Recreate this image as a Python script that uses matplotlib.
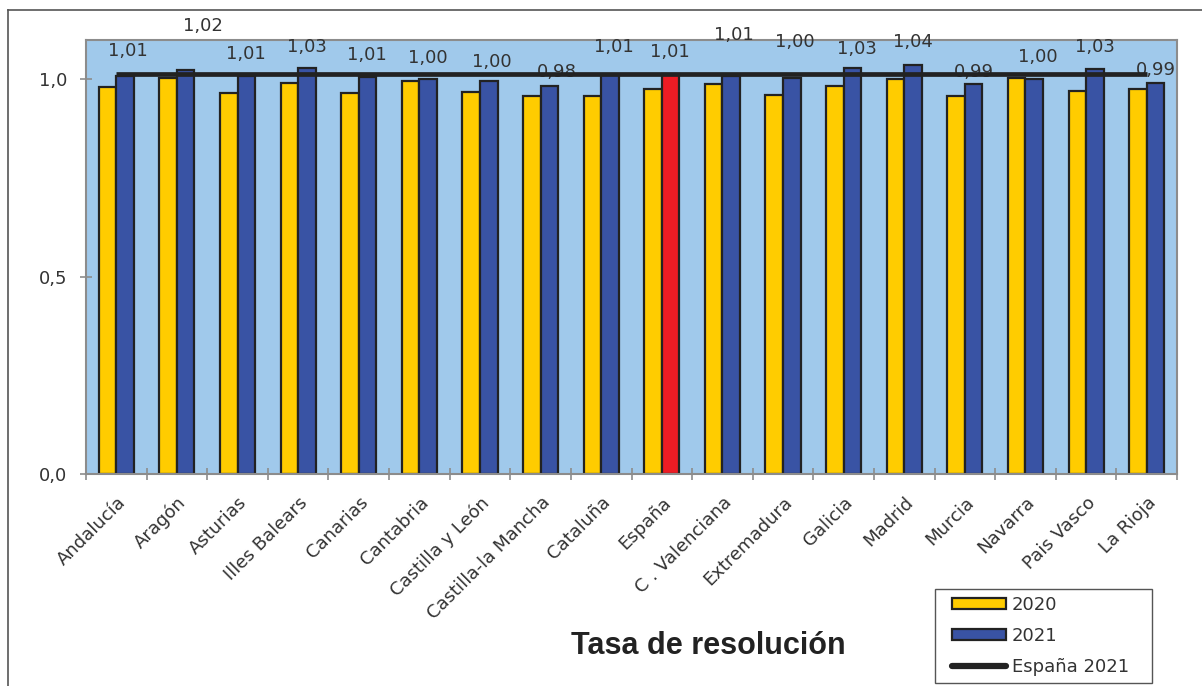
import matplotlib
matplotlib.use("Agg")
import matplotlib.pyplot as plt
from matplotlib.patches import Patch, Rectangle
from matplotlib.lines import Line2D
import numpy as np

# data
regions = ["Andalucía", "Aragón", "Asturias", "Illes Balears", "Canarias",
           "Cantabria", "Castilla y León", "Castilla-la Mancha", "Cataluña",
           "España", "C . Valenciana", "Extremadura", "Galicia", "Madrid",
           "Murcia", "Navarra", "Pais Vasco", "La Rioja"]
tasa_2020 = [0.981, 1.003, 0.966, 0.990, 0.966, 0.996, 0.969, 0.958, 0.959,
             0.977, 0.988, 0.960, 0.983, 1.000, 0.958, 1.003, 0.970, 0.975]
tasa_2021 = [1.010, 1.024, 1.008, 1.030, 1.007, 1.002, 0.997, 0.984, 1.012,
             1.014, 1.010, 1.003, 1.030, 1.036, 0.988, 1.002, 1.026, 0.992]
espana_2021 = 1.014
y_ticks = [0.0, 0.5, 1.0]

# label offsets (pixels) as placed in the original
lab_dx = [3, 17, 0, 0, -1, 0, 3, 7, 4, -1, 3, 3, 5, 0, 0, 4, 0, 0]
lab_dy = [25, 44, 22, 21, 22, 21, 19, 14, 28, 22, 41, 36, 19, 23, 12, 22, 22, 13]

c_yel = "#FFCC00"
c_blu = "#3953A4"
c_red = "#ED1C24"
c_bg = "#A0C9EB"
c_txt = "#333333"
c_grey = "#8C8C8C"

plt.rcParams['font.family'] = ['DejaVu Sans']

fig = plt.figure(figsize=(12.02, 6.86), dpi=100)
ax = fig.add_axes([86/1202, 1-474/686, (1177-86)/1202, (474-40)/686])
ax.set_facecolor(c_bg)

x = np.arange(len(regions))
w = 0.29
ax.bar(x - w, tasa_2020, width=w, align='edge', color=c_yel,
       edgecolor='#222222', linewidth=1.6, zorder=2)
blue_cols = [c_red if r == "España" else c_blu for r in regions]
ax.bar(x, tasa_2021, width=w, align='edge', color=blue_cols,
       edgecolor='#222222', linewidth=1.6, zorder=2)

ax.plot(x, np.full(len(x), espana_2021), color='#222222', lw=3.4,
        solid_capstyle='butt', zorder=5)

for i, v in enumerate(tasa_2021):
    ax.annotate(f"{v:.2f}".replace('.', ','), (x[i] + w/2, v),
                xytext=(lab_dx[i], lab_dy[i]), textcoords='offset pixels',
                ha='center', va='center', fontsize=13, color=c_txt, zorder=4)

ax.set_xlim(-0.5, len(regions) - 0.5)
ax.set_ylim(0, 1.1)

ax.set_yticks(y_ticks)
ax.set_yticklabels([f"{t:.1f}".replace('.', ',') for t in y_ticks],
                   fontsize=13, color=c_txt)
ax.tick_params(axis='y', direction='inout', length=9, width=1.2,
               color=c_grey, pad=9)

ax.set_xticks(x)
ax.set_xticklabels(regions, rotation=45, ha='right', rotation_mode='anchor',
                   fontsize=13, color=c_txt)
ax.tick_params(axis='x', which='major', length=0, pad=14)
ax.set_xticks(np.arange(len(regions) + 1) - 0.5, minor=True)
ax.tick_params(axis='x', which='minor', direction='inout', length=9,
               width=1.2, color=c_grey)

for s in ax.spines.values():
    s.set_color(c_grey)
    s.set_linewidth(1.5)

# title under the chart
fig.text(708/1202, 1-646/686, "Tasa de resolución", ha='center', va='center',
         fontsize=22, fontweight='bold', family='Liberation Sans', color='#222222')

# legend: frame drawn by hand to match the original box
fig.add_artist(Rectangle((935/1202, 1-683/686), (1152-935)/1202, (683-589)/686,
                         transform=fig.transFigure, facecolor='white',
                         edgecolor='#555555', lw=1.0, zorder=1))
handles = [Patch(facecolor=c_yel, edgecolor='#222222', linewidth=1.6),
           Patch(facecolor=c_blu, edgecolor='#222222', linewidth=1.6),
           Line2D([0], [0], color='#222222', lw=4.5, solid_capstyle='round')]
leg = fig.legend(handles, ["2020", "2021", "España 2021"], loc='upper left',
                 bbox_to_anchor=(952/1202, 1-596/686), fontsize=13,
                 frameon=False, borderaxespad=0, borderpad=0,
                 handlelength=3.0, handleheight=0.6, handletextpad=0.3,
                 labelspacing=0.72)
leg.set_zorder(3)
for t in leg.get_texts():
    t.set_color(c_txt)

# outer frame of the chart area
fig.add_artist(Line2D([7.5/1202, 1], [1-9.5/686, 1-9.5/686],
                      transform=fig.transFigure, color='#555555', lw=1.2))
fig.add_artist(Line2D([7.5/1202, 7.5/1202], [0, 1-9.5/686],
                      transform=fig.transFigure, color='#555555', lw=1.2))

fig.savefig("out.png", dpi=100)
